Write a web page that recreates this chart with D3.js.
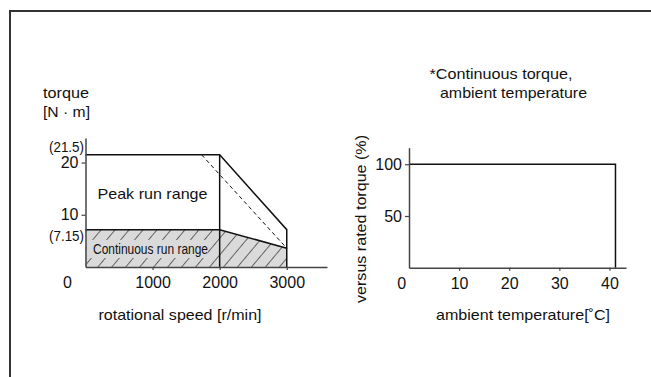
<!DOCTYPE html>
<html>
<head>
<meta charset="utf-8">
<script src="https://cdn.jsdelivr.net/npm/d3@7"></script>
<style>
  body { margin: 0; background: #fff; }
  svg { display: block; }
  text { font-family: "Liberation Sans", Arial, Helvetica, sans-serif; fill: #111; }
</style>
</head>
<body>
<svg id="chart" width="651" height="377"></svg>
<script>
// ---- data ----
// left chart: torque vs rotational speed
const speedTicks = [1000, 2000, 3000];
const torqueTicks = [10, 20];
const torqueMarks = [21.5, 7.15];
const peakSpeed = [0, 2000, 3000, 3000];
const peakTorque = [21.5, 21.5, 7.15, 0];
const contSpeed = [0, 2000, 3000];
const contTorque = [7.15, 7.15, 3.6];
const dashSpeed = [1730, 3000];
const dashTorque = [21.5, 3.6];

// right chart: continuous torque vs ambient temperature
const tempTicks = [10, 20, 30, 40];
const ratioTicks = [50, 100];
const limitTemp = [0, 41.2, 41.2];
const limitRatio = [100, 100, 0];

const svg = d3.select("#chart");

// outer frame (only top and left edges are in view)
svg.append("path")
    .attr("d", "M10,377 V11 H651")
    .attr("fill", "none")
    .attr("stroke", "#333")
    .attr("stroke-width", 2);

/**
 * Put a text label at (x, y), vertically centred.
 * len squeezes or stretches the text to a given width.
 */
function label(g, x, y, str, size, anchor, len) {
    const t = g.append("text")
        .attr("x", x)
        .attr("y", y)
        .attr("dy", "0.35em")
        .attr("font-size", size)
        .attr("text-anchor", anchor || "middle")
        .text(str);
    if (len) t.attr("textLength", len).attr("lengthAdjust", "spacingAndGlyphs");
    return t;
}

function styleAxis(g) {
    g.select(".domain").attr("stroke", "#444").attr("stroke-width", 1.5);
    g.selectAll(".tick line").attr("stroke", "#444").attr("stroke-width", 1.2);
    g.selectAll(".tick text")
        .attr("font-size", 16)
        .attr("font-family", "Liberation Sans, Arial, sans-serif")
        .attr("fill", "#111");
}

// ================= left chart =================
const xL = d3.scaleLinear().domain([0, 3600]).range([85.5, 327]);
const yL = d3.scaleLinear().domain([0, 24.7]).range([267, 138]);
const left = svg.append("g");

const defs = svg.append("defs");
const hatch = defs.append("pattern")
    .attr("id", "hatch")
    .attr("patternUnits", "userSpaceOnUse")
    .attr("width", 10.7)
    .attr("height", 10)
    .attr("patternTransform", "rotate(40)");
hatch.append("rect").attr("width", 10.7).attr("height", 10).attr("fill", "#dadada");
hatch.append("line")
    .attr("x1", 0).attr("y1", 0).attr("x2", 0).attr("y2", 10)
    .attr("stroke", "#333").attr("stroke-width", 1.4);

// continuous run range, filled and hatched
const contPoly = contSpeed.map((s, i) => [xL(s), yL(contTorque[i])]);
contPoly.push([xL(3000), yL(0)], [xL(0), yL(0)]);
left.append("path")
    .attr("d", "M" + contPoly.join("L") + "Z")
    .attr("fill", "url(#hatch)");

// band behind the text hides the hatching
left.append("rect")
    .attr("x", xL(0) + 1)
    .attr("y", 240)
    .attr("width", 121)
    .attr("height", 18)
    .attr("fill", "#dadada");

const line = d3.line();

left.append("path")
    .attr("d", line(contSpeed.map((s, i) => [xL(s), yL(contTorque[i])])))
    .attr("fill", "none").attr("stroke", "#111").attr("stroke-width", 1.5);

left.append("path")
    .attr("d", line(peakSpeed.map((s, i) => [xL(s), yL(peakTorque[i])])))
    .attr("fill", "none").attr("stroke", "#111").attr("stroke-width", 1.5);

left.append("path")
    .attr("d", line([[xL(2000), yL(0)], [xL(2000), yL(21.5)]]))
    .attr("fill", "none").attr("stroke", "#111").attr("stroke-width", 1.5);

left.append("path")
    .attr("d", line(dashSpeed.map((s, i) => [xL(s), yL(dashTorque[i])])))
    .attr("fill", "none").attr("stroke", "#111").attr("stroke-width", 1)
    .attr("stroke-dasharray", "4,3");

left.append("g")
    .attr("transform", `translate(0,${yL(0)})`)
    .call(d3.axisBottom(xL).tickValues(speedTicks).tickFormat(d3.format("d"))
        .tickSize(3).tickSizeOuter(0).tickPadding(7))
    .call(styleAxis);

left.append("g")
    .attr("transform", `translate(${xL(0)},0)`)
    .call(d3.axisLeft(yL).tickValues(torqueTicks).tickSize(4).tickSizeOuter(0).tickPadding(3))
    .call(styleAxis);

label(left, 67.5, 282, "0", 16);
label(left, 84, yL(torqueMarks[0]) - 8, "(21.5)", 14, "end", 35);
label(left, 84, yL(torqueMarks[1]) + 6.5, "(7.15)", 14, "end", 35);

label(left, 152.5, 194, "Peak run range", 15, "middle", 110);
label(left, 150.5, 249, "Continuous run range", 14, "middle", 115);

label(left, 43, 92.7, "torque", 15, "start", 46);
label(left, 43, 111.7, "[N · m]", 15, "start", 47);
label(left, 180, 315, "rotational speed [r/min]", 15, "middle", 163);

// ================= right chart =================
const xR = d3.scaleLinear().domain([0, 43.3]).range([409, 626]);
const yR = d3.scaleLinear().domain([0, 116]).range([267.7, 147.7]);
const right = svg.append("g");

right.append("path")
    .attr("d", line(limitTemp.map((t, i) => [xR(t), yR(limitRatio[i])])))
    .attr("fill", "none").attr("stroke", "#111").attr("stroke-width", 1.5);

right.append("g")
    .attr("transform", `translate(0,${yR(0)})`)
    .call(d3.axisBottom(xR).tickValues(tempTicks).tickSize(3).tickSizeOuter(0).tickPadding(7))
    .call(styleAxis);

right.append("g")
    .attr("transform", `translate(${xR(0)},0)`)
    .call(d3.axisLeft(yR).tickValues(ratioTicks).tickSize(4).tickSizeOuter(0).tickPadding(3))
    .call(styleAxis);

label(right, 401.7, 283, "0", 16);

label(right, 429.5, 73.3, "*Continuous torque,", 15, "start", 143);
label(right, 440, 92.3, "ambient temperature", 15, "start", 147);
label(right, 523, 315, "ambient temperature[˚C]", 15, "middle", 174);

right.append("text")
    .attr("transform", "translate(361,219) rotate(-90)")
    .attr("dy", "0.35em")
    .attr("font-size", 15)
    .attr("text-anchor", "middle")
    .attr("textLength", 168)
    .attr("lengthAdjust", "spacingAndGlyphs")
    .text("versus rated torque (%)");
</script>
</body>
</html>
